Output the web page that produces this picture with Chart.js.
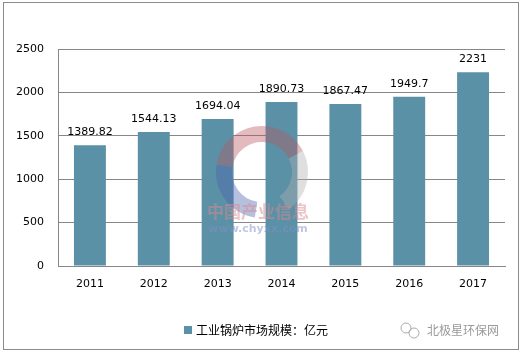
<!DOCTYPE html>
<html>
<head>
<meta charset="utf-8">
<script src="https://cdn.jsdelivr.net/npm/chart.js@4"></script>
<style>
  html, body { margin: 0; padding: 0; background: #fff; }
  #wrap { width: 521px; height: 354px; }
</style>
</head>
<body>
<div id="wrap"><canvas id="bar-chart-boiler" width="521" height="354"></canvas></div>
<script>
// 工业锅炉市场规模 (亿元), 2011-2017
const years = ['2011', '2012', '2013', '2014', '2015', '2016', '2017'];
const marketSize = [1389.82, 1544.13, 1694.04, 1890.73, 1867.47, 1949.7, 2231];
const valueLabels = ['1389.82', '1544.13', '1694.04', '1890.73', '1867.47', '1949.7', '2231'];
const seriesName = '工业锅炉市场规模：亿元';

const barColor = '#5b91a6';
const gridColor = '#878787';
const font = 'DejaVu Sans';

// frame, value labels, legend and watermarks
const decorations = {
  id: 'decorations',
  beforeDraw(chart) {
    const ctx = chart.ctx;
    ctx.save();
    ctx.strokeStyle = '#8c8c8c';
    ctx.lineWidth = 1;
    ctx.strokeRect(3.5, 2.5, 515, 347);
    ctx.restore();
  },
  afterDatasetsDraw(chart) {
    const ctx = chart.ctx;
    const meta = chart.getDatasetMeta(0);
    ctx.save();

    // faint logo watermark over the bars
    ctx.globalAlpha = 0.4;
    ctx.lineWidth = 16;
    ctx.strokeStyle = '#b8545e';
    ctx.beginPath();
    ctx.arc(262, 172, 38, Math.PI * 1.05, Math.PI * 1.85);
    ctx.stroke();
    ctx.strokeStyle = '#4a5fae';
    ctx.beginPath();
    ctx.arc(262, 172, 38, Math.PI * 0.55, Math.PI * 1.05);
    ctx.stroke();
    ctx.strokeStyle = '#b0b0b0';
    ctx.beginPath();
    ctx.arc(262, 172, 38, Math.PI * 1.85, Math.PI * 2.3);
    ctx.stroke();
    ctx.globalAlpha = 1;

    ctx.font = '11px "' + font + '"';
    ctx.fillStyle = '#000';
    ctx.textAlign = 'center';
    ctx.textBaseline = 'middle';
    meta.data.forEach((bar, i) => {
      ctx.fillText(valueLabels[i], bar.x, bar.y - 13);
    });

    // watermark text
    ctx.globalAlpha = 0.5;
    ctx.font = 'bold 17px "Noto Sans CJK SC"';
    ctx.fillStyle = '#d88a90';
    ctx.fillText('中国产业信息', 258, 212);
    ctx.font = 'bold 11px "DejaVu Sans"';
    ctx.fillStyle = '#7f90c8';
    ctx.fillText('www.chyxx.com', 258, 229);
    ctx.globalAlpha = 1;

    // legend
    ctx.fillStyle = barColor;
    ctx.fillRect(184, 326, 8, 8);
    ctx.fillStyle = '#000';
    ctx.textAlign = 'left';
    ctx.font = '12px "Noto Sans CJK SC"';
    ctx.fillText(seriesName, 196, 330);

    // account watermark
    ctx.fillStyle = '#9a9a9a';
    ctx.font = '12px "Noto Sans CJK SC"';
    ctx.fillText('北极星环保网', 427, 330);
    ctx.strokeStyle = '#aaa';
    ctx.lineWidth = 1;
    ctx.beginPath();
    ctx.arc(406, 328, 5, 0, Math.PI * 2);
    ctx.stroke();
    ctx.beginPath();
    ctx.arc(414, 333, 5, 0, Math.PI * 2);
    ctx.stroke();
    ctx.restore();
  },
};

const config = {
  type: 'bar',
  data: {
    labels: years,
    datasets: [
      {
        label: seriesName,
        data: marketSize,
        backgroundColor: barColor,
        categoryPercentage: 1.0,
        barPercentage: 0.5,
      },
    ],
  },
  options: {
    responsive: false,
    animation: false,
    layout: {
      padding: { top: 49, right: 16, bottom: 0, left: 0 },
    },
    plugins: {
      legend: { display: false },
      tooltip: { enabled: false },
    },
    scales: {
      x: {
        afterFit(scale) { scale.height = 88; },
        grid: { display: false, drawTicks: false },
        border: { color: gridColor, width: 1 },
        ticks: {
          padding: 12,
          color: '#000',
          font: { family: font, size: 11 },
        },
      },
      y: {
        min: 0,
        max: 2500,
        afterFit(scale) { scale.width = 58; },
        grid: { color: gridColor, drawTicks: false },
        border: { color: gridColor, width: 1 },
        ticks: {
          stepSize: 500,
          padding: 14,
          color: '#000',
          font: { family: font, size: 11 },
          callback: (v) => String(v),
        },
      },
    },
  },
  plugins: [decorations],
};

new Chart(document.getElementById('bar-chart-boiler').getContext('2d'), config);
</script>
</body>
</html>
